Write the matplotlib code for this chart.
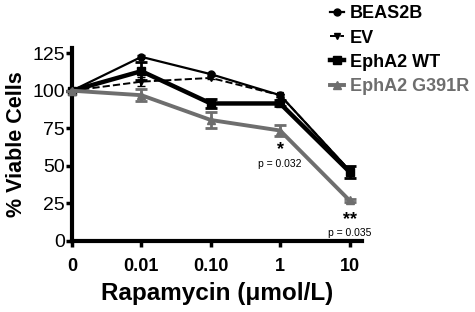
import numpy as np
import matplotlib.pyplot as plt
from matplotlib.lines import Line2D

plt.rcParams['font.family'] = ['Liberation Sans', 'DejaVu Sans']

# data
doses = ["0", "0.01", "0.10", "1", "10"]
beas2b = [100, 122.5, 111, 97, 47]
beas2b_err = [0, 1, 1, 1, 2]
ev = [100, 106, 108.5, 97, 47]
ev_err = [0, 3, 1, 1, 2]
wt = [100, 113, 91.5, 91.5, 46]
wt_err = [0, 6, 3, 2, 4]
g391r = [100, 97, 80.5, 73.5, 27]
g391r_err = [0, 4, 5, 3.5, 1]

gray = "#6e6e6e"
x = np.arange(len(doses))

fig = plt.figure(figsize=(4.75, 3.12), dpi=100)
ax = fig.add_axes([0.1516, 0.2276, 0.6105, 0.619])

ax.errorbar(x, beas2b, yerr=beas2b_err, color="black", lw=1.6, marker="o", ms=5,
            capsize=3, clip_on=False, zorder=4)
ax.errorbar(x, ev, yerr=ev_err, color="black", lw=1.4, ls="--", marker="v", ms=5,
            capsize=3, clip_on=False, zorder=3)
ax.errorbar(x, wt, yerr=wt_err, color="black", lw=3.2, marker="s", ms=6,
            capsize=4, elinewidth=2, capthick=2, clip_on=False, zorder=5)
ax.errorbar(x, g391r, yerr=g391r_err, color=gray, lw=2.8, marker="^", ms=6,
            capsize=4, elinewidth=2, capthick=2, clip_on=False, zorder=6)

ax.set_xlim(0, 4.18)
ax.set_ylim(0, 128.5)
ax.set_xticks(x)
ax.set_xticklabels(doses, fontsize=13, fontweight="bold")
ax.set_yticks([0, 25, 50, 75, 100, 125])
ax.tick_params(axis="y", labelsize=14, width=2.5, length=4, pad=1)
ax.tick_params(axis="x", width=2.5, length=4, pad=8)
for s in ["top", "right"]:
    ax.spines[s].set_visible(False)
for s in ["left", "bottom"]:
    ax.spines[s].set_linewidth(3)

ax.set_ylabel("% Viable Cells", fontsize=15.5, fontweight="bold", labelpad=4)
ax.set_xlabel("Rapamycin (\u03bcmol/L)", fontsize=17.5, fontweight="bold", labelpad=5)

# significance marks
ax.text(3, 61, "*", ha="center", va="center", fontsize=13, fontweight="bold")
ax.text(3, 51, "p = 0.032", ha="center", va="center", fontsize=7.5)
ax.text(4.0, 14.5, "**", ha="center", va="center", fontsize=13, fontweight="bold")
ax.text(4.0, 5.5, "p = 0.035", ha="center", va="center", fontsize=7.5)

handles = [
    Line2D([], [], color="black", lw=1.6, marker="o", ms=5),
    Line2D([], [], color="black", lw=1.4, ls="--", marker="v", ms=5),
    Line2D([], [], color="black", lw=3.2, marker="s", ms=6),
    Line2D([], [], color=gray, lw=2.8, marker="^", ms=6),
]
labels = ["BEAS2B", "EV", "EphA2 WT", "EphA2 G391R"]
leg = fig.legend(handles, labels, loc="upper left", bbox_to_anchor=(0.66, 1.035),
                 frameon=False, handlelength=0.8, handletextpad=0.3,
                 labelspacing=0.4, prop={"size": 13, "weight": "bold"})
leg.get_texts()[3].set_color(gray)

fig.savefig("out.png", dpi=100)
